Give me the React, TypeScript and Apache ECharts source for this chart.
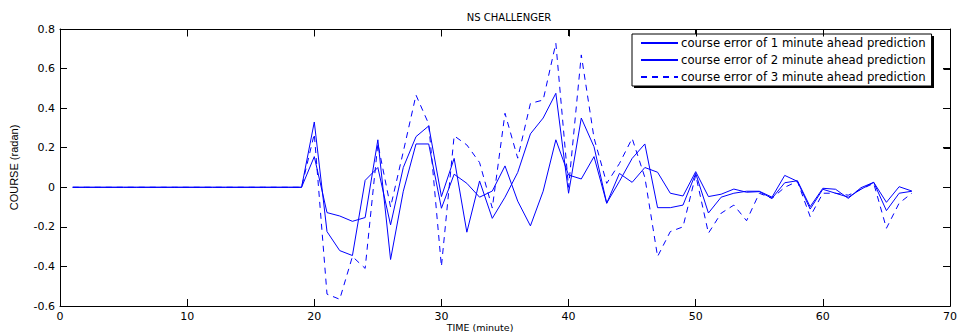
import React, { useEffect, useRef } from "react";
import * as echarts from "echarts";

const time = [
  1, 2, 3, 4, 5, 6, 7, 8, 9, 10, 11, 12, 13, 14, 15, 16, 17, 18, 19, 20,
  21, 22, 23, 24, 25, 26, 27, 28, 29, 30, 31, 32, 33, 34, 35, 36, 37, 38, 39, 40,
  41, 42, 43, 44, 45, 46, 47, 48, 49, 50, 51, 52, 53, 54, 55, 56, 57, 58, 59, 60,
  61, 62, 63, 64, 65, 66, 67,
];

const err1 = [
  0, 0, 0, 0, 0, 0, 0, 0, 0, 0, 0, 0, 0, 0, 0, 0, 0, 0, 0, 0.155,
  -0.128, -0.145, -0.172, -0.153, 0.24, -0.365, -0.02, 0.219, 0.219, -0.106,
  0.066, 0.02, -0.05, -0.019, 0.108, -0.07, -0.195, -0.02, 0.24, 0.062,
  0.042, 0.155, -0.081, 0.07, 0.025, 0.1, 0.076, -0.03, -0.044, 0.079,
  -0.047, -0.035, -0.009, -0.025, -0.022, -0.056, 0.023, 0.033, -0.098, -0.005,
  -0.01, -0.056, -0.002, 0.025, -0.076, 0.003, -0.019,
];

const err2 = [
  0, 0, 0, 0, 0, 0, 0, 0, 0, 0, 0, 0, 0, 0, 0, 0, 0, 0, 0, 0.33,
  -0.224, -0.32, -0.345, 0.035, 0.1, -0.19, 0.1, 0.256, 0.31, -0.047,
  0.146, -0.227, 0.032, -0.157, -0.05, 0.075, 0.27, 0.35, 0.475, -0.03,
  0.35, 0.205, -0.08, 0.03, 0.146, 0.219, -0.103, -0.103, -0.09, 0.07,
  -0.13, -0.05, -0.03, -0.02, -0.02, -0.05, 0.06, 0.03, -0.11, -0.01,
  -0.03, -0.05, -0.01, 0.025, -0.118, -0.03, -0.02,
];

const err3 = [
  0, 0, 0, 0, 0, 0, 0, 0, 0, 0, 0, 0, 0, 0, 0, 0, 0, 0, 0, 0.27,
  -0.54, -0.566, -0.35, -0.41, 0.22, -0.1, 0.18, 0.466, 0.32, -0.4,
  0.26, 0.214, 0.125, -0.105, 0.374, 0.147, 0.424, 0.441, 0.728, 0.0,
  0.669, 0.25, 0.02, 0.12, 0.247, 0.05, -0.35, -0.224, -0.2, 0.062,
  -0.232, -0.131, -0.09, -0.169, -0.03, -0.056, 0.0, 0.03, -0.148, -0.03,
  -0.03, -0.04, -0.01, 0.02, -0.207, -0.08, -0.03,
];

const xTicks = [0, 10, 20, 30, 40, 50, 60, 70];
const yTicks = [-0.6, -0.4, -0.2, 0, 0.2, 0.4, 0.6, 0.8];

const seriesNames = [
  "course error of 1 minute ahead prediction",
  "course error of 2 minute ahead prediction",
  "course error of 3 minute ahead prediction",
];

const BLUE = "#0000ff";
const TICK_FONT = "DejaVu Sans";

export default function App() {
  const ref = useRef<HTMLDivElement>(null);

  useEffect(() => {
    if (!ref.current) return;
    const chart = echarts.init(ref.current, undefined, { renderer: "svg" });
    const pairs = (vals: number[]) => time.map((t, i) => [t, vals[i]]);

    const axisCommon = {
      type: "value" as const,
      axisLine: { show: true, onZero: false, lineStyle: { color: "#000", width: 1 } },
      axisTick: { show: true, inside: true, length: 7, lineStyle: { color: "#000" } },
      splitLine: { show: false },
    };

    chart.setOption({
      animation: false,
      backgroundColor: "#fff",
      title: {
        text: "NS CHALLENGER",
        left: 504,
        top: 7,
        textAlign: "center",
        textStyle: { fontFamily: TICK_FONT, fontSize: 10, fontWeight: "normal", color: "#000" },
      },
      grid: { left: 58, right: 10, top: 29, bottom: 30, containLabel: false },
      legend: {
        data: seriesNames,
        orient: "vertical",
        left: 632,
        top: 34,
        itemWidth: 37,
        itemHeight: 12,
        itemGap: 5,
        padding: [3, 6, 3, 8],
        borderColor: "#000",
        borderWidth: 1,
        backgroundColor: "#fff",
        itemStyle: { color: "rgba(255,255,255,0)", borderWidth: 0 },
        textStyle: { fontFamily: TICK_FONT, fontSize: 11.7, color: "#000", padding: [0, 0, 0, -2] },
      },
      xAxis: [
        {
          ...axisCommon,
          position: "bottom",
          min: xTicks[0],
          max: xTicks[xTicks.length - 1],
          interval: 10,
          axisLabel: { show: true, margin: 5, fontFamily: TICK_FONT, fontSize: 11, color: "#000" },
        },
        {
          ...axisCommon,
          position: "top",
          min: xTicks[0],
          max: xTicks[xTicks.length - 1],
          interval: 10,
          axisLabel: { show: false },
        },
      ],
      yAxis: [
        {
          ...axisCommon,
          position: "left",
          min: yTicks[0],
          max: yTicks[yTicks.length - 1],
          interval: 0.2,
          name: "COURSE (radan)",
          nameLocation: "middle",
          nameGap: 41,
          nameTextStyle: { fontFamily: "Liberation Sans", fontSize: 11, color: "#000" },
          axisLabel: { show: true, margin: 5, fontFamily: TICK_FONT, fontSize: 11, color: "#000" },
        },
        {
          ...axisCommon,
          position: "right",
          min: yTicks[0],
          max: yTicks[yTicks.length - 1],
          interval: 0.2,
          axisLabel: { show: false },
        },
      ],
      series: [
        {
          name: seriesNames[0],
          type: "line",
          data: pairs(err1),
          symbol: "none",
          lineStyle: { color: BLUE, width: 1 },
          itemStyle: { color: BLUE },
        },
        {
          name: seriesNames[1],
          type: "line",
          data: pairs(err2),
          symbol: "none",
          lineStyle: { color: BLUE, width: 1 },
          itemStyle: { color: BLUE },
        },
        {
          name: seriesNames[2],
          type: "line",
          data: pairs(err3),
          symbol: "none",
          lineStyle: { color: BLUE, width: 1, type: [6, 5] },
          itemStyle: { color: BLUE },
        },
      ],
    });

    // Backup frame on top and right, positioned through the grid's own scales.
    const xMin = xTicks[0];
    const xMax = xTicks[xTicks.length - 1];
    const yMin = yTicks[0];
    const yMax = yTicks[yTicks.length - 1];
    const toPx = (x: number, y: number): number[] => {
      const p = chart.convertToPixel({ gridIndex: 0 }, [x, y]) as number[];
      return p && isFinite(p[0]) && isFinite(p[1]) ? p : [NaN, NaN];
    };
    const crisp = (v: number) => Math.round(v) + 0.5;
    const tl = toPx(xMin, yMax);
    const br = toPx(xMax, yMin);
    const frame: any[] = [];
    if (isFinite(tl[0]) && isFinite(br[0])) {
      const top = crisp(tl[1]);
      const right = crisp(br[0]);
      const left = crisp(tl[0]);
      const bottom = crisp(br[1]);
      const ls = { stroke: "#000", lineWidth: 1 };
      frame.push({ type: "line", z: 10, shape: { x1: left, y1: top, x2: right, y2: top }, style: ls });
      frame.push({ type: "line", z: 10, shape: { x1: right, y1: top, x2: right, y2: bottom }, style: ls });
      xTicks.slice(1, -1).forEach((t) => {
        const px = crisp(toPx(t, yMax)[0]);
        frame.push({ type: "line", z: 10, shape: { x1: px, y1: top, x2: px, y2: top + 7 }, style: ls });
      });
      yTicks.slice(1, -1).forEach((v) => {
        const py = crisp(toPx(xMax, v)[1]);
        frame.push({ type: "line", z: 10, shape: { x1: right - 7, y1: py, x2: right, y2: py }, style: ls });
      });
    }

    chart.setOption({
      graphic: [
        {
          type: "rect",
          z: 1,
          shape: { x: 634, y: 36, width: 300, height: 52 },
          style: { fill: "#000" },
        },
        {
          type: "text",
          x: 480,
          y: 327,
          style: {
            text: "TIME (minute)",
            font: `9.5px "${TICK_FONT}"`,
            fill: "#000",
            textAlign: "center",
            textVerticalAlign: "middle",
          },
        },
        ...frame,
      ],
    });

    return () => chart.dispose();
  }, []);

  return <div ref={ref} style={{ width: 960, height: 336, position: "fixed", left: 0, top: 0 }} />;
}
